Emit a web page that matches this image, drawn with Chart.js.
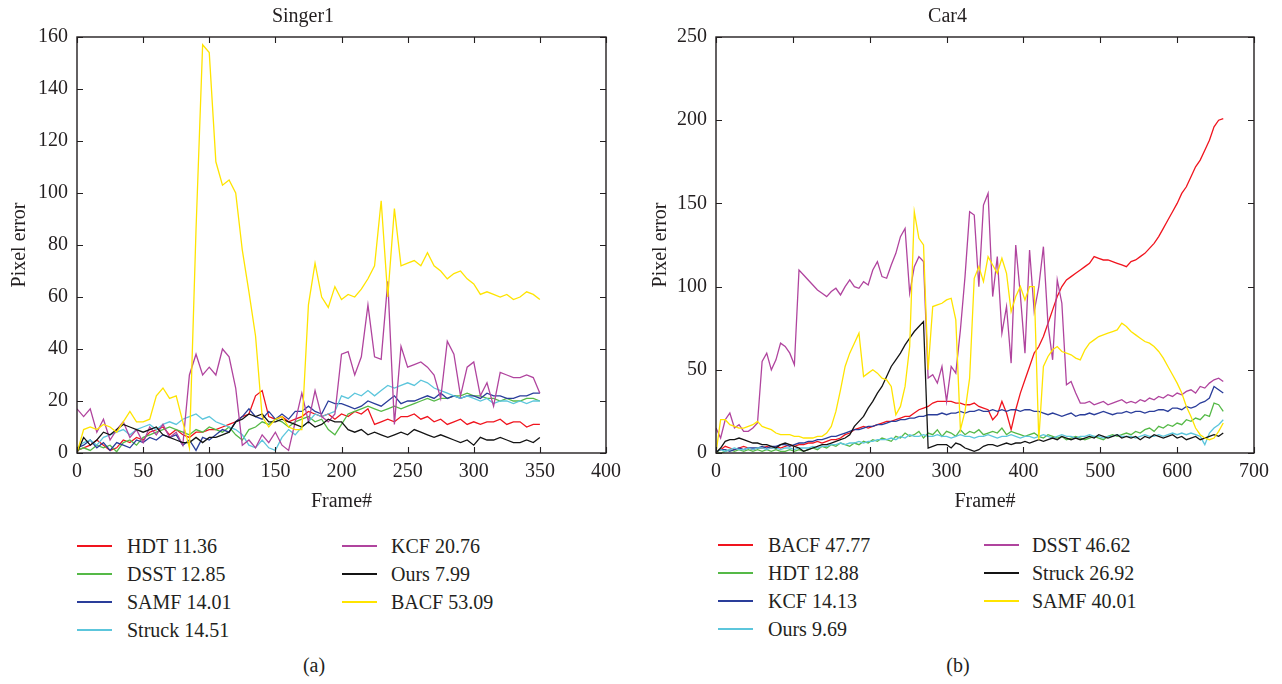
<!DOCTYPE html>
<html>
<head>
<meta charset="utf-8">
<script src="https://cdn.jsdelivr.net/npm/chart.js@4.4.1/dist/chart.umd.min.js"></script>
<style>
  body { margin: 0; background: #fff; }
  #page { position: relative; width: 1282px; height: 684px; overflow: hidden; font-family: "Liberation Serif", serif; color: #231f20; }
  #page canvas { position: absolute; top: 0; }
  .item { position: absolute; height: 24px; line-height: 24px; font-size: 20px; white-space: nowrap; }
  .item i { position: absolute; left: 0; top: 11px; width: 35px; height: 2px; }
  .item span { position: absolute; top: 0; }
  .cap { position: absolute; font-size: 20px; line-height: 24px; transform: translateX(-50%); }
</style>
</head>
<body>
<div id="page">
  <canvas id="chartSinger" width="641" height="520" style="left:0"></canvas>
  <canvas id="chartCar" width="641" height="520" style="left:641px"></canvas>
  <div class="cap" style="left:314px; top:653px">(a)</div>
  <div class="cap" style="left:958px; top:653px">(b)</div>
</div>
<script>
// Цвета линий (одинаковый порядок для обоих графиков)
const colors = ['#f0141e', '#55b947', '#2a3d9a', '#5cc6dc', '#b0449e', '#141414', '#ffe400'];

// ---------- Singer1 ----------
const singerNames = ['HDT 11.36', 'DSST 12.85', 'SAMF 14.01', 'Struck 14.51', 'KCF 20.76', 'Ours 7.99', 'BACF 53.09'];

const singerFrames = [0, 5, 10, 15, 20, 25, 30, 35, 40, 45,
  50, 55, 60, 65, 70, 75, 80, 85, 90, 95,
  100, 105, 110, 115, 120, 125, 130, 135, 140, 145,
  150, 155, 160, 165, 170, 175, 180, 185, 190, 195,
  200, 205, 210, 215, 220, 225, 230, 235, 240, 245,
  250, 255, 260, 265, 270, 275, 280, 285, 290, 295,
  300, 305, 310, 315, 320, 325, 330, 335, 340, 345,
  350];

const singerHDT = [1, 2, 3, 5, 3, 1, 2, 5, 4, 6,
  5, 8, 9, 10, 7, 9, 7, 6, 8, 8,
  9, 9, 10, 11, 12, 14, 15, 22, 24, 14,
  13, 14, 12, 13, 14, 16, 15, 14, 15, 13,
  15, 14, 16, 15, 17, 11, 12, 13, 12, 14,
  14, 15, 13, 14, 12, 13, 11, 12, 13, 11,
  12, 11, 12, 12, 13, 11, 12, 12, 10, 11,
  11];

const singerDSST = [1, 2, 1, 3, 2, 3, 0.5, 4, 5, 3,
  6, 7, 8, 9, 10, 9, 8, 7, 9, 8,
  10, 9, 8, 10, 7, 5, 9, 10, 12, 11,
  13, 12, 10, 12, 13, 14, 12, 13, 9, 7,
  11, 15, 16, 17, 18, 17, 16, 17, 18, 17,
  18, 19, 20, 21, 20, 21, 21, 22, 22, 23,
  22, 22, 21, 21, 20, 21, 20, 20, 21, 21,
  20];

const singerSAMF = [2, 3, 5, 2, 4, 1, 4, 3, 2, 5,
  4, 6, 5, 7, 6, 7, 3, 5, 1, 6,
  5, 7, 9, 8, 12, 14, 17, 14, 13, 16,
  13, 15, 13, 16, 16, 18, 16, 15, 20, 19,
  19, 18, 17, 18, 20, 19, 18, 20, 22, 19,
  20, 20, 21, 22, 21, 23, 21, 22, 21, 22,
  22, 21, 23, 22, 22, 21, 21, 22, 22, 23,
  23];

const singerStruck = [2, 4, 5, 3, 6, 7, 8, 9, 7, 9,
  10, 11, 9, 11, 12, 11, 13, 14, 15, 13,
  14, 12, 11, 10, 9, 7, 3, 2, 5, 2,
  1, 6, 9, 7, 10, 12, 15, 14, 15, 16,
  22, 21, 23, 22, 24, 22, 24, 26, 25, 26,
  27, 26, 28, 27, 25, 24, 23, 22, 21, 22,
  21, 20, 21, 19, 20, 20, 19, 20, 19, 20,
  20];

const singerKCF = [17, 14, 17, 8, 13, 5, 9, 12, 6, 9,
  4, 10, 7, 11, 6, 8, 3, 30, 38, 30,
  33, 30, 40, 37, 25, 3, 5, 2, 7, 4,
  8, 3, 1, 12, 23, 12, 24, 14, 12, 15,
  38, 39, 30, 37, 57, 37, 36, 66, 11, 41,
  33, 34, 35, 33, 30, 21, 43, 38, 22, 33,
  35, 22, 27, 18, 31, 30, 29, 29, 30, 29,
  23];

const singerOurs = [0, 6, 3, 5, 8, 7, 9, 11, 10, 9,
  8, 9, 10, 7, 6, 5, 4, 4, 6, 4,
  6, 6, 7, 8, 12, 13, 15, 14, 15, 12,
  12, 13, 12, 11, 10, 12, 10, 11, 13, 12,
  12, 9, 8, 9, 7, 8, 7, 6, 7, 8,
  7, 9, 8, 7, 6, 7, 6, 5, 4, 5,
  3, 6, 5, 5, 6, 5, 4, 4, 5, 4,
  6];

const singerBACF = [0, 9, 10, 9, 11, 10, 8, 12, 16, 12,
  12, 13, 22, 25, 21, 22, 12, 2, 86, 157,
  154, 112, 103, 105, 100, 78, 62, 45, 14, 10,
  13, 14, 10, 9, 9, 57, 73, 60, 56, 64,
  59, 61, 60, 63, 67, 72, 97, 60, 94, 72,
  73, 74, 72, 77, 72, 70, 67, 69, 70, 67,
  65, 61, 62, 61, 60, 61, 59, 60, 62, 61,
  59];

// ---------- Car4 ----------
const carNames = ['BACF 47.77', 'HDT 12.88', 'KCF 14.13', 'Ours 9.69', 'DSST 46.62', 'Struck 26.92', 'SAMF 40.01'];

const carFrames = [0, 6, 12, 18, 24, 30, 36, 42, 48, 54,
  60, 66, 72, 78, 84, 90, 96, 102, 108, 114,
  120, 126, 132, 138, 144, 150, 156, 162, 168, 174,
  180, 186, 192, 198, 204, 210, 216, 222, 228, 234,
  240, 246, 252, 258, 264, 270, 276, 282, 288, 294,
  300, 306, 312, 318, 324, 330, 336, 342, 348, 354,
  360, 366, 372, 378, 384, 390, 396, 402, 408, 414,
  420, 426, 432, 438, 444, 450, 456, 462, 468, 474,
  480, 486, 492, 498, 504, 510, 516, 522, 528, 534,
  540, 546, 552, 558, 564, 570, 576, 582, 588, 594,
  600, 606, 612, 618, 624, 630, 636, 642, 648, 654,
  660];

const carBACF = [1, 2, 4, 3, 2, 3, 4, 3, 2, 3,
  3, 4, 3, 4, 3, 4, 5, 4, 5, 5,
  6, 6, 7, 6, 7, 8, 8, 9, 11, 12,
  14, 15, 16, 15, 16, 17, 18, 19, 19, 20,
  21, 22, 22, 24, 26, 27, 28, 30, 31, 31,
  31, 31, 30, 30, 29, 29, 30, 28, 27, 26,
  20, 23, 31, 24, 14, 26, 36, 44, 52, 60,
  64, 70, 78, 86, 94, 100, 104, 106, 108, 110,
  112, 114, 118, 117, 116, 116, 115, 114, 113, 112,
  115, 116, 118, 120, 123, 126, 130, 135, 140, 145,
  150, 156, 160, 166, 172, 176, 182, 188, 196, 200,
  201];

const carHDT = [1, 0, 1, 2, 1, 2, 1, 2, 1, 2,
  1, 2, 1, 2, 1, 1, 2, 1, 2, 1,
  2, 3, 2, 4, 3, 5, 4, 6, 5, 4,
  6, 5, 7, 6, 8, 7, 9, 8, 7, 10,
  9, 12, 10, 11, 13, 9, 12, 11, 14, 10,
  13, 12, 10, 14, 11, 13, 12, 14, 11, 12,
  13, 12, 15, 11, 13, 12, 11, 10, 11, 12,
  10, 9, 11, 10, 9, 10, 8, 9, 10, 9,
  8, 9, 10, 9, 8, 10, 11, 10, 11, 12,
  11, 13, 12, 14, 15, 13, 16, 15, 17, 16,
  18, 17, 20, 19, 21, 20, 23, 22, 30, 29,
  25];

const carKCF = [1, 2, 2, 1, 2, 3, 2, 3, 3, 3,
  4, 3, 4, 4, 5, 5, 4, 5, 6, 6,
  7, 7, 8, 8, 9, 10, 10, 11, 12, 13,
  14, 14, 15, 16, 16, 17, 17, 18, 19, 19,
  20, 20, 21, 21, 22, 22, 23, 23, 23, 24,
  23, 24, 24, 25, 24, 25, 25, 26, 25, 25,
  26, 25, 26, 25, 26, 26, 25, 26, 26, 25,
  25, 24, 23, 24, 23, 22, 23, 24, 22, 23,
  23, 24, 23, 24, 25, 24, 23, 24, 24, 25,
  24, 25, 25, 24, 25, 25, 26, 26, 25, 27,
  27, 26, 28, 27, 28, 30, 31, 33, 40, 38,
  36];

const carOurs = [1, 2, 1, 2, 3, 2, 2, 3, 2, 3,
  3, 2, 3, 3, 2, 3, 3, 2, 3, 3,
  3, 4, 3, 4, 4, 5, 5, 6, 5, 6,
  6, 7, 6, 7, 7, 8, 8, 8, 9, 8,
  10, 9, 11, 10, 10, 11, 10, 10, 11, 10,
  10, 9, 10, 11, 10, 10, 9, 10, 10, 11,
  10, 9, 10, 10, 11, 10, 9, 10, 10, 9,
  10, 11, 10, 9, 10, 11, 10, 10, 9, 10,
  10, 11, 10, 10, 9, 10, 10, 11, 10, 10,
  10, 9, 10, 11, 10, 10, 11, 10, 11, 12,
  11, 12, 11, 12, 11, 10, 5, 12, 15, 17,
  20];

const carDSST = [15, 9, 20, 24, 15, 17, 13, 13, 15, 18,
  55, 60, 50, 56, 66, 64, 60, 53, 110, 107,
  104, 101, 98, 96, 94, 97, 99, 95, 100, 104,
  100, 99, 103, 101, 110, 115, 106, 105, 113, 120,
  130, 135, 96, 112, 118, 115, 45, 47, 42, 52,
  31, 52, 48, 74, 106, 145, 143, 100, 149, 156,
  94, 118, 72, 88, 54, 125, 95, 60, 122, 85,
  100, 124, 77, 56, 104, 90, 41, 43, 36, 30,
  30, 31, 29, 30, 31, 29, 30, 31, 32, 30,
  31, 30, 32, 31, 33, 32, 34, 33, 35, 34,
  36, 35, 37, 38, 36, 40, 39, 42, 44, 45,
  43];

const carStruck = [0, 3, 7, 8, 8, 9, 8, 7, 6, 6,
  5, 5, 4, 3, 5, 6, 5, 4, 3, 1,
  2, 3, 4, 5, 5, 6, 7, 8, 9, 11,
  16, 19, 22, 27, 31, 36, 40, 46, 52, 56,
  60, 65, 69, 73, 76, 79, 3, 4, 5, 5,
  5, 3, 6, 5, 3, 2, 1, 2, 4, 5,
  5, 4, 5, 6, 5, 6, 6, 7, 6, 7,
  8, 7, 8, 9, 8, 10, 9, 8, 9, 8,
  9, 10, 9, 11, 10, 9, 10, 11, 9, 10,
  9, 10, 8, 10, 9, 11, 10, 9, 10, 11,
  9, 10, 8, 9, 10, 8, 9, 10, 11, 10,
  12];

const carSAMF = [0, 20, 20, 17, 16, 15, 15, 16, 17, 19,
  16, 15, 14, 12, 11, 11, 11, 10, 10, 9,
  9, 9, 10, 10, 12, 16, 25, 38, 52, 60,
  66, 72, 46, 48, 50, 48, 45, 44, 40, 23,
  28, 40, 64, 145, 129, 125, 50, 88, 89, 90,
  92, 93, 80, 14, 25, 45, 105, 112, 103, 118,
  113, 108, 117, 108, 85, 94, 100, 92, 100, 100,
  8, 52, 58, 62, 64, 61, 60, 59, 57, 56,
  62, 66, 68, 70, 71, 72, 73, 74, 78, 76,
  73, 71, 69, 67, 66, 64, 61, 57, 52, 47,
  42, 36, 28, 22, 15, 11, 9, 8, 9, 13,
  18];

const singerSeries = [singerHDT, singerDSST, singerSAMF, singerStruck, singerKCF, singerOurs, singerBACF];
const carSeries = [carBACF, carHDT, carKCF, carOurs, carDSST, carStruck, carSAMF];

Chart.defaults.font.family = '"Liberation Serif", "Times New Roman", serif';
Chart.defaults.color = '#231f20';

// рамка вокруг области графика и засечки внутрь
const frameBox = {
  id: 'frameBox',
  afterDraw(chart) {
    const {ctx, chartArea: a, scales: {x, y}} = chart;
    ctx.save();
    ctx.strokeStyle = '#231f20';
    ctx.lineWidth = 1.4;
    ctx.strokeRect(a.left, a.top, a.right - a.left, a.bottom - a.top);
    ctx.lineWidth = 1.1;
    ctx.beginPath();
    x.ticks.forEach(t => {
      const px = Math.round(x.getPixelForValue(t.value)) + 0.5;
      ctx.moveTo(px, a.bottom); ctx.lineTo(px, a.bottom - 6);
      ctx.moveTo(px, a.top); ctx.lineTo(px, a.top + 6);
    });
    y.ticks.forEach(t => {
      const py = Math.round(y.getPixelForValue(t.value)) + 0.5;
      ctx.moveTo(a.left, py); ctx.lineTo(a.left + 6, py);
      ctx.moveTo(a.right, py); ctx.lineTo(a.right - 6, py);
    });
    ctx.stroke();
    ctx.restore();
  }
};

function makeChart(id, title, frames, series, names, xMax, xStep, yMax, yStep, yWidth, padRight) {
  const datasets = series.map((vals, i) => ({
    label: names[i],
    data: vals.map((v, k) => ({x: frames[k], y: v})),
    borderColor: colors[i],
    borderWidth: 1.3,
    pointRadius: 0,
    tension: 0,
    order: series.length - i
  }));
  return new Chart(document.getElementById(id), {
    type: 'line',
    data: {datasets: datasets},
    options: {
      responsive: false,
      animation: false,
      layout: {padding: {left: 0, right: padRight, top: 0, bottom: 0}},
      plugins: {
        legend: {display: false},
        tooltip: {enabled: false},
        title: {
          display: true, text: title, color: '#231f20',
          font: {size: 20, weight: 'normal'},
          padding: {top: 5, bottom: 8}
        }
      },
      scales: {
        x: {
          type: 'linear', min: 0, max: xMax,
          grid: {display: false, drawTicks: false},
          border: {display: false},
          ticks: {stepSize: xStep, autoSkip: false, maxRotation: 0, padding: 7, font: {size: 20}, color: '#231f20'},
          title: {display: true, text: 'Frame#', font: {size: 20}, color: '#231f20', padding: {top: 0, bottom: 6}},
          afterFit: s => { s.height = 67; }
        },
        y: {
          min: 0, max: yMax,
          grid: {display: false, drawTicks: false},
          border: {display: false},
          ticks: {stepSize: yStep, padding: 9, font: {size: 20}, color: '#231f20'},
          title: {display: true, text: 'Pixel error', font: {size: 20}, color: '#231f20', padding: {top: 8, bottom: 0}},
          afterFit: s => { s.width = yWidth; }
        }
      }
    },
    plugins: [frameBox]
  });
}

makeChart('chartSinger', 'Singer1', singerFrames, singerSeries, singerNames, 400, 50, 160, 20, 77, 35);
makeChart('chartCar', 'Car4', carFrames, carSeries, carNames, 700, 100, 250, 50, 75, 28);

// легенда под графиками: две колонки
function buildLegend(names, lineX, textX, rowY) {
  const page = document.getElementById('page');
  names.forEach((name, i) => {
    const col = i < 4 ? 0 : 1;
    const row = i < 4 ? i : i - 4;
    const item = document.createElement('div');
    item.className = 'item';
    item.style.left = lineX[col] + 'px';
    item.style.top = (rowY[row] - 12) + 'px';
    const mark = document.createElement('i');
    mark.style.background = colors[i];
    const text = document.createElement('span');
    text.style.left = (textX[col] - lineX[col]) + 'px';
    text.textContent = name;
    item.appendChild(mark);
    item.appendChild(text);
    page.appendChild(item);
  });
}

buildLegend(singerNames, [77, 342], [127, 391], [546, 574, 602, 630]);
buildLegend(carNames, [718, 984], [768, 1032], [545, 573, 601, 629]);
</script>
</body>
</html>
